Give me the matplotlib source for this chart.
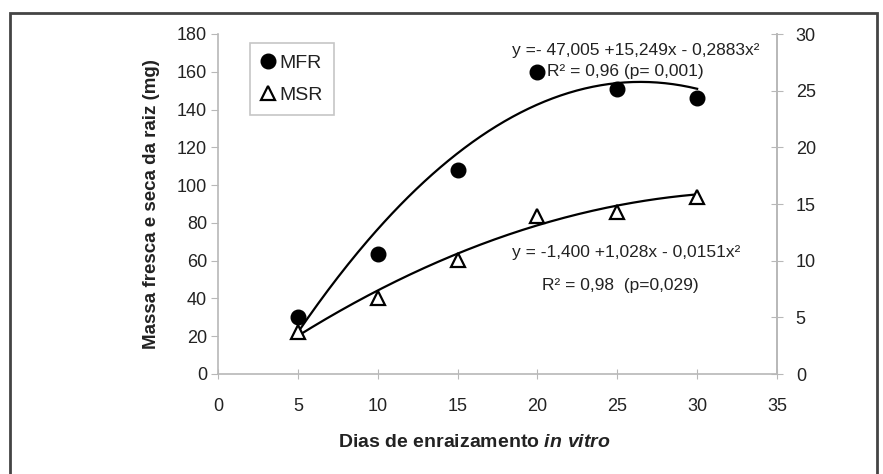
import numpy as np
import matplotlib
matplotlib.use("Agg")
import matplotlib.pyplot as plt
from matplotlib.patches import Rectangle

plt.rcParams['font.family'] = ['Liberation Sans', 'DejaVu Sans']
plt.rcParams['mathtext.fontset'] = 'custom'
plt.rcParams['mathtext.it'] = 'Liberation Sans:italic:bold'
plt.rcParams['mathtext.rm'] = 'Liberation Sans:bold'

# dados
dias = [5, 10, 15, 20, 25, 30]
mfr = [30, 63.5, 108, 160, 151, 146]      # eixo esquerdo (mg)
msr = [3.7, 6.7, 10.1, 13.9, 14.3, 15.6]  # eixo direito (mg)

# coeficientes das regressoes (a + b*x + c*x^2)
coef_mfr = [-47.005, 15.249, -0.2883]
coef_msr = [-1.400, 1.028, -0.0151]

eq_mfr = "y =- 47,005 +15,249x - 0,2883x²"
r2_mfr = "R² = 0,96 (p= 0,001)"
eq_msr = "y = -1,400 +1,028x - 0,0151x²"
r2_msr = "R² = 0,98  (p=0,029)"

xticks = [0, 5, 10, 15, 20, 25, 30, 35]
yticks_esq = [0, 20, 40, 60, 80, 100, 120, 140, 160, 180]
yticks_dir = [0, 5, 10, 15, 20, 25, 30]

W, H = 883, 474
fig = plt.figure(figsize=(W / 100, H / 100), dpi=100)
ax = fig.add_axes([218 / W, 1 - 374 / H, (777 - 218) / W, (374 - 34) / H])
ax2 = ax.twinx()

cinza = '#b8b8b8'
txt = '#222222'

xs = np.linspace(5, 30, 200)
ax.plot(xs, coef_mfr[0] + coef_mfr[1] * xs + coef_mfr[2] * xs ** 2, color='black', lw=1.6)
ax2.plot(xs, coef_msr[0] + coef_msr[1] * xs + coef_msr[2] * xs ** 2, color='black', lw=1.6)

h1, = ax.plot(dias, mfr, 'o', color='black', ms=10.5, ls='none', label='MFR')
h2, = ax2.plot(dias, msr, '^', mfc='white', mec='black', mew=1.6, ms=10.5, ls='none', label='MSR')

ax.set_xlim(0, 35)
ax.set_ylim(0, 180)
ax2.set_ylim(0, 30)
ax.set_xticks(xticks)
ax.set_yticks(yticks_esq)
ax2.set_yticks(yticks_dir)

for a in (ax, ax2):
    a.spines['top'].set_visible(False)
    for s in ('left', 'right', 'bottom'):
        a.spines[s].set_color(cinza)
        a.spines[s].set_linewidth(1.2)
ax2.spines['left'].set_visible(False)
ax2.spines['bottom'].set_visible(False)

ax.tick_params(axis='x', direction='inout', length=7, color=cinza, labelsize=13,
               labelcolor=txt, pad=14)
ax.tick_params(axis='y', direction='out', length=5, color=cinza, labelsize=13,
               labelcolor=txt, pad=3)
ax2.tick_params(axis='y', direction='inout', length=9, color=cinza, labelsize=13,
                labelcolor=txt, pad=9)

ax.set_ylabel('Massa fresca e seca da raiz (mg)', fontsize=13.5, fontweight='bold',
              color=txt, labelpad=12)
ax.set_xlabel(r'Dias de enraizamento $\mathit{in\ vitro}$', fontsize=14,
              fontweight='bold', color=txt)
ax.xaxis.set_label_coords(0.458, -0.176)

ax.text(33.9, 171.5, eq_mfr, ha='right', va='center', fontsize=12.5, color=txt)
ax.text(20.6, 160, r2_mfr, ha='left', va='center', fontsize=12.5, color=txt)
ax.text(32.7, 64.5, eq_msr, ha='right', va='center', fontsize=12.5, color=txt)
ax.text(25.2, 47, r2_msr, ha='center', va='center', fontsize=12.5, color=txt)

leg = ax.legend([h1, h2], ['MFR', 'MSR'], loc='upper left',
                bbox_to_anchor=((250 - 218) / (777 - 218), 1 - (43 - 34) / 340),
                fontsize=14, frameon=True, fancybox=False, handlelength=0.7,
                handletextpad=0.2, labelspacing=0.7, borderpad=0.6, borderaxespad=0)
leg.get_frame().set_edgecolor(cinza)
leg.get_frame().set_linewidth(1.2)
for t in leg.get_texts():
    t.set_color(txt)

fig.patches.append(Rectangle((10 / W, -0.02), (877 - 10) / W, 1.02 - 13 / H,
                             transform=fig.transFigure, fill=False,
                             edgecolor='#444444', lw=2))

fig.savefig('out.png', dpi=100)
